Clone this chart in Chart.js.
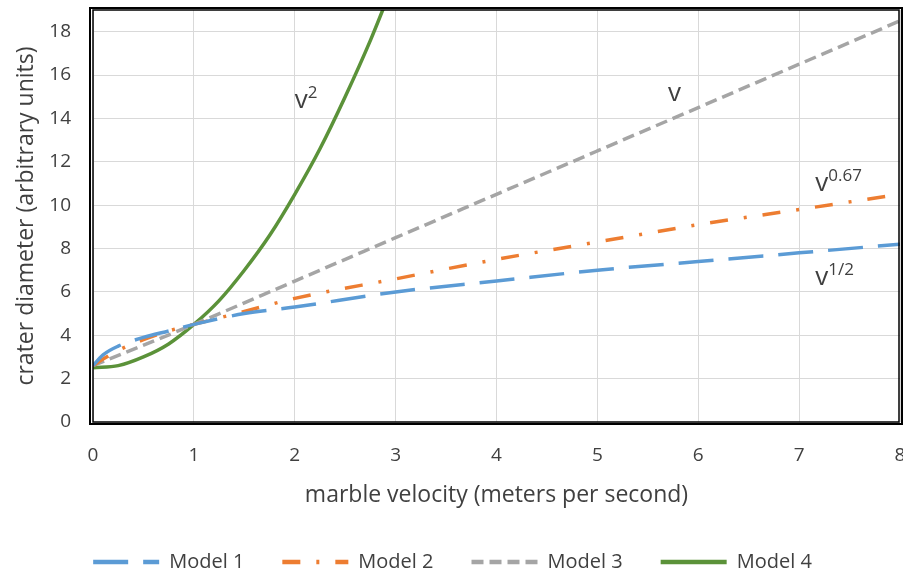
<!DOCTYPE html>
<html>
<head>
<meta charset="utf-8">
<script src="https://cdn.jsdelivr.net/npm/chart.js@4.4.0/dist/chart.umd.min.js"></script>
<style>
  html, body { margin: 0; padding: 0; background: #fff; }
  #wrap { width: 903px; height: 578px; }
</style>
</head>
<body>
<div id="wrap"><canvas id="craterChart"></canvas></div>
<script>
// valeurs
const velocityFine = [0, 0.1, 0.25, 0.5, 0.75, 1, 1.5, 2, 3, 4, 5, 6, 7, 8];
const model1 = [2.6, 3.1, 3.5, 3.9, 4.2, 4.5, 5.0, 5.3, 6.0, 6.5, 7.0, 7.4, 7.8, 8.2];
const model2 = [2.6, 2.9, 3.3, 3.8, 4.2, 4.5, 5.1, 5.7, 6.6, 7.5, 8.3, 9.1, 9.8, 10.5];
const velocityLin = [0, 1, 2, 3, 4, 5, 6, 7, 8];
const model3 = [2.6, 4.5, 6.5, 8.5, 10.5, 12.5, 14.5, 16.5, 18.5];
const velocitySq = [0, 0.25, 0.5, 0.75, 1, 1.25, 1.5, 1.75, 2, 2.25, 2.5, 2.75, 3];
const model4 = [2.5, 2.6, 3.0, 3.6, 4.5, 5.6, 7.0, 8.6, 10.5, 12.6, 15.0, 17.6, 20.5];

const xTicks = [0, 1, 2, 3, 4, 5, 6, 7, 8];
const yTicks = [0, 2, 4, 6, 8, 10, 12, 14, 16, 18];

// etiquettes des courbes : [texte, exposant, x, y]
const curveLabels = [
  ['v', '2', 2.0, 14.5],
  ['v', '', 5.7, 14.8],
  ['v', '0.67', 7.16, 10.66],
  ['v', '1/2', 7.16, 6.3]
];

const FONT = '"Open Sans", sans-serif';

function pts(xs, ys) {
  return xs.map((x, i) => ({ x: x, y: ys[i] }));
}

const labelPlugin = {
  id: 'curveLabels',
  afterDatasetsDraw(chart) {
    const ctx = chart.ctx;
    const sx = chart.scales.x, sy = chart.scales.y;
    ctx.save();
    ctx.fillStyle = '#404040';
    ctx.textBaseline = 'alphabetic';
    ctx.textAlign = 'left';
    curveLabels.forEach(l => {
      const px = sx.getPixelForValue(l[2]);
      const py = sy.getPixelForValue(l[3]);
      ctx.font = '26px ' + FONT;
      ctx.fillText(l[0], px, py);
      const w = ctx.measureText(l[0]).width;
      ctx.font = '17px ' + FONT;
      ctx.fillText(l[1], px + w, py - 10);
    });
    ctx.restore();
  }
};

// cadre double style Excel
const borderPlugin = {
  id: 'plotBorder',
  afterDraw(chart) {
    const a = chart.chartArea;
    const ctx = chart.ctx;
    ctx.save();
    ctx.strokeStyle = '#000';
    ctx.lineWidth = 2;
    ctx.strokeRect(a.left - 3, a.top - 2, a.right - a.left + 5, a.bottom - a.top + 4);
    ctx.lineWidth = 1.5;
    ctx.strokeRect(a.left, a.top, a.right - a.left - 1, a.bottom - a.top);
    ctx.restore();
  }
};

const lineOpts = { pointRadius: 0, borderWidth: 3.5, fill: false, cubicInterpolationMode: 'monotone', showLine: true };

new Chart('craterChart', {
  type: 'scatter',
  data: {
    datasets: [
      Object.assign({ label: 'Model 1', data: pts(velocityFine, model1), borderColor: '#5b9bd5', backgroundColor: '#5b9bd5', borderDash: [35, 15] }, lineOpts),
      Object.assign({ label: 'Model 2', data: pts(velocityFine, model2), borderColor: '#ed7d31', backgroundColor: '#ed7d31', borderDash: [18, 16, 3, 16] }, lineOpts),
      Object.assign({ label: 'Model 3', data: pts(velocityLin, model3), borderColor: '#a5a5a5', backgroundColor: '#a5a5a5', borderDash: [12, 6] }, lineOpts),
      Object.assign({ label: 'Model 4', data: pts(velocitySq, model4), borderColor: '#5b9239', backgroundColor: '#5b9239', borderDash: [] }, lineOpts)
    ]
  },
  options: {
    responsive: true,
    maintainAspectRatio: false,
    animation: false,
    layout: { padding: { top: 10, right: 3, left: 5, bottom: -4 } },
    scales: {
      x: {
        type: 'linear', min: 0, max: 8,
        afterBuildTicks: s => { s.ticks = xTicks.map(v => ({ value: v })); },
        afterFit: s => { s.height = 92; s.paddingRight = 0; s.paddingLeft = 0; },
        grid: { color: '#d9d9d9', lineWidth: 1, drawTicks: false },
        border: { display: false },
        ticks: { color: '#404040', font: { family: FONT, size: 19 }, padding: 22 },
        title: { display: true, text: 'marble velocity (meters per second)', color: '#404040',
          font: { family: FONT, size: 23 }, padding: { top: 10, bottom: 5 } }
      },
      y: {
        type: 'linear', min: 0, max: 19,
        afterBuildTicks: s => { s.ticks = yTicks.map(v => ({ value: v })); },
        afterFit: s => { s.width = 88; s.paddingTop = 0; s.paddingBottom = 0; },
        grid: { color: '#d9d9d9', lineWidth: 1, drawTicks: false },
        border: { display: false },
        ticks: { color: '#404040', font: { family: FONT, size: 19 }, padding: 22 },
        title: { display: true, text: 'crater diameter (arbitrary units)', color: '#404040',
          font: { family: FONT, size: 23 }, padding: { top: 8, bottom: 0 } }
      }
    },
    plugins: {
      legend: {
        position: 'bottom',
        labels: {
          usePointStyle: true, pointStyle: 'line', pointStyleWidth: 66, boxHeight: 10,
          color: '#404040', font: { family: FONT, size: 20 }, padding: 38,
          generateLabels: chart => Chart.defaults.plugins.legend.labels.generateLabels(chart).map(l => {
            const ds = chart.data.datasets[l.datasetIndex];
            l.lineDash = ds.borderDash;
            l.lineWidth = 4.5;
            l.strokeStyle = ds.borderColor;
            return l;
          })
        }
      },
      tooltip: { enabled: false }
    }
  },
  plugins: [labelPlugin, borderPlugin]
});
</script>
</body>
</html>
